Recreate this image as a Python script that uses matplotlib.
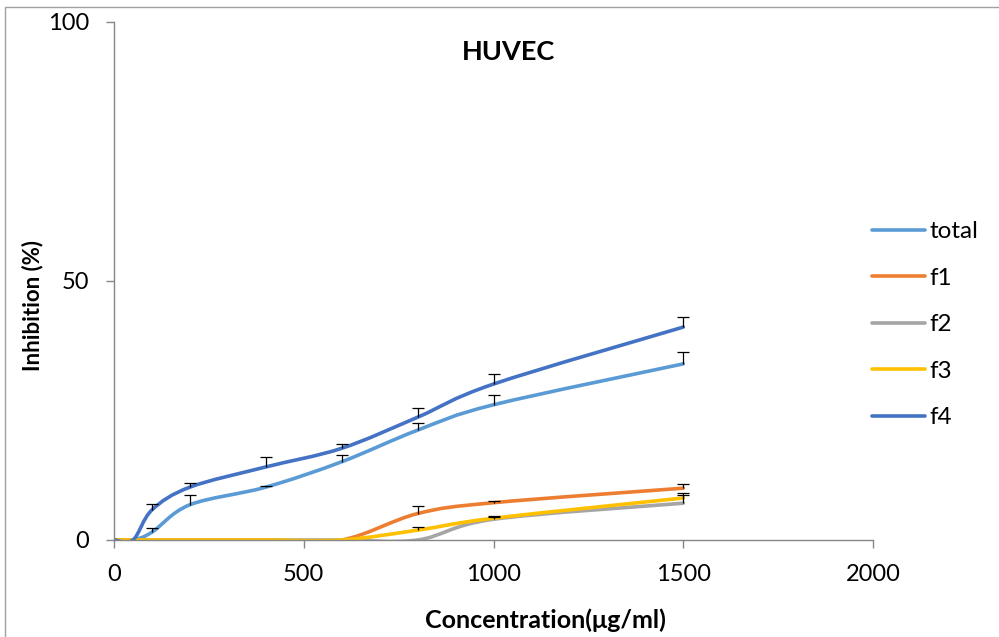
import matplotlib
matplotlib.use("Agg")
import matplotlib.pyplot as plt
import numpy as np
from matplotlib.path import Path
from matplotlib.patches import PathPatch, Rectangle
from matplotlib.lines import Line2D

plt.rcParams['font.family'] = ['Lato', 'DejaVu Sans']

# Data
conc = [0, 50, 100, 200, 400, 600, 800, 1000, 1500]
series_names = ["total", "f1", "f2", "f3", "f4"]
total = [0, 0, 1.5, 6.8, 10.2, 15.1, 21.2, 26.1, 34.0]
f1 = [0, 0, 0, 0, 0, 0, 5.1, 7.2, 10.0]
f2 = [0, 0, 0, 0, 0, 0, 0, 4.0, 7.1]
f3 = [0, 0, 0, 0, 0, 0, 1.9, 4.2, 8.1]
f4 = [0, 0, 5.8, 10.2, 14.1, 17.7, 23.7, 30.1, 41.1]
total_err = [0, 0, 0.9, 1.9, 0.3, 1.4, 1.4, 1.9, 2.3]
f1_err = [0, 0, 0, 0, 0, 0, 1.5, 0.3, 0.8]
f2_err = [0, 0, 0, 0, 0, 0, 0, 0.5, 1.5]
f3_err = [0, 0, 0, 0, 0, 0, 0.6, 0.4, 1.0]
f4_err = [0, 0, 1.1, 0.8, 1.9, 0.8, 1.8, 1.9, 1.9]

colors = ["#5B9BD5", "#ED7D31", "#A5A5A5", "#FFC000", "#4472C4"]


# Excel style smoothed line: cubic bezier with catmull-rom tangents
def smooth_path(x, y):
    pts = np.column_stack([x, y]).astype(float)
    n = len(pts)
    verts = [pts[0]]
    codes = [Path.MOVETO]
    for i in range(n - 1):
        p0 = pts[i - 1] if i > 0 else pts[i]
        p1 = pts[i]
        p2 = pts[i + 1]
        p3 = pts[i + 2] if i + 2 < n else pts[i + 1]
        c1 = p1 + (p2 - p0) / 6.0
        c2 = p2 - (p3 - p1) / 6.0
        verts += [c1, c2, p2]
        codes += [Path.CURVE4] * 3
    return Path(verts, codes)


fig = plt.figure(figsize=(9.99, 6.37), dpi=100)
ax = fig.add_axes([0.1141, 0.1523, 0.7598, 0.8132])

# outer chart border
fig.patches.append(Rectangle((0.005, -0.01), 1.0, 0.999, transform=fig.transFigure,
                             fill=False, edgecolor="#a0a0a0", linewidth=1.0))

all_vals = [total, f1, f2, f3, f4]
all_errs = [total_err, f1_err, f2_err, f3_err, f4_err]
handles = []
for name, vals, errs, col in zip(series_names, all_vals, all_errs, colors):
    patch = PathPatch(smooth_path(conc, vals), facecolor="none", edgecolor=col,
                      linewidth=2.6, capstyle="round", joinstyle="round")
    ax.add_patch(patch)
    handles.append(Line2D([0], [0], color=col, linewidth=2.6, solid_capstyle="round"))

# plus-only error bars
for vals, errs in zip(all_vals, all_errs):
    x_e = [c for c, e in zip(conc, errs) if e > 0]
    y_e = [v for v, e in zip(vals, errs) if e > 0]
    up = [e for e in errs if e > 0]
    eb = ax.errorbar(x_e, y_e, yerr=[np.zeros(len(up)), up], fmt="none", ecolor="black",
                     elinewidth=0.9, capsize=4.5, capthick=0.9, zorder=5)
    eb[1][0].set_visible(False)

ax.set_xlim(0, 2000)
ax.set_ylim(0, 100)
ax.set_xticks([0, 500, 1000, 1500, 2000])
ax.set_yticks([0, 50, 100])
for s in ["top", "right"]:
    ax.spines[s].set_visible(False)
for s in ["left", "bottom"]:
    ax.spines[s].set_color("#868686")
    ax.spines[s].set_linewidth(1.0)
ax.tick_params(axis="both", colors="#868686", length=6, width=1.0, labelcolor="black",
               labelsize=17)
ax.tick_params(axis="x", pad=11)
ax.tick_params(axis="y", pad=12)

ax.set_title("HUVEC", fontsize=19.5, fontweight="bold", x=0.52, y=0.91)
ax.set_xlabel("Concentration(μg/ml)", fontsize=18, fontweight="bold")
ax.xaxis.set_label_coords(0.568, -0.132)
ax.set_ylabel("Inhibition (%)", fontsize=16, fontweight="bold")
ax.yaxis.set_label_coords(-0.093, 0.452)

fig.legend(handles, series_names, loc="center left", bbox_to_anchor=(0.851, 0.490),
           frameon=False, fontsize=17.5, handlelength=2.2, handletextpad=0.15,
           labelspacing=1.05)

fig.savefig("out.png", dpi=100)
